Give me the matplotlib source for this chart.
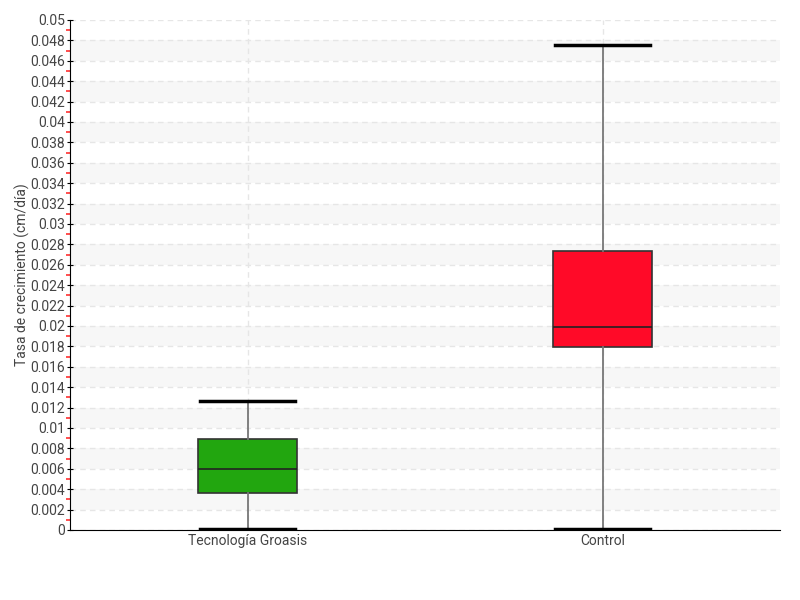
import numpy as np
import matplotlib
matplotlib.use("Agg")
import matplotlib.pyplot as plt
from matplotlib.ticker import MultipleLocator

categorias = ["Tecnología Groasis", "Control"]
minimos = [0.0001, 0.0001]
q1 = [0.0036, 0.0179]
medianas = [0.0060, 0.0199]
q3 = [0.0089, 0.0274]
maximos = [0.0126, 0.0475]
colores = ["#22a60f", "#ff0a28"]

plt.rcParams['font.family'] = ['Roboto', 'DejaVu Sans']

fig = plt.figure(figsize=(8, 6), dpi=100)
ax = fig.add_axes([0.0875, 0.1167, 0.8875, 0.85])

stats = []
for i in range(len(categorias)):
    stats.append(dict(label=categorias[i], whislo=minimos[i], q1=q1[i], med=medianas[i],
                      q3=q3[i], whishi=maximos[i], fliers=[]))

pos = [0.5, 1.5]
bp = ax.bxp(stats, positions=pos, widths=0.28, patch_artist=True, showfliers=False,
            boxprops=dict(edgecolor='#333333', linewidth=1.2),
            medianprops=dict(color='#222222', linewidth=1.2),
            whiskerprops=dict(color='#777777', linewidth=1.3),
            capprops=dict(color='black', linewidth=2.5), capwidths=0.27)
for caja, c in zip(bp['boxes'], colores):
    caja.set_facecolor(c)
    caja.set_zorder(3)
for k in ['whiskers', 'caps', 'medians']:
    for l in bp[k]:
        l.set_zorder(3)

# bandas alternas y rejilla
for y0 in np.arange(0.002, 0.05, 0.004):
    ax.axhspan(y0, y0 + 0.002, color='#f7f7f7', zorder=0, lw=0)
ax.set_ylim(0, 0.05)
ax.set_xlim(0, 2)
ax.grid(axis='y', which='major', color='#e6e6e6', linestyle=(0, (4, 3)), linewidth=1, zorder=1)
for p in pos:
    ax.axvline(p, color='#e6e6e6', linestyle=(0, (4, 3)), linewidth=1, zorder=1)
ax.set_axisbelow(True)

ticks = np.arange(0, 0.0501, 0.002)
ax.set_yticks(ticks)
ax.set_yticklabels(['0' if t == 0 else ('%.3f' % t).rstrip('0') for t in ticks])
ax.yaxis.set_minor_locator(MultipleLocator(0.001))
ax.set_xticks(pos)
ax.set_xticklabels(categorias)

ax.tick_params(axis='y', which='major', direction='inout', length=5, color='black',
               labelsize=10, labelcolor='#444444', pad=1)
ax.tick_params(axis='y', which='minor', direction='out', length=3, width=1.2, color='#ff3030')
ax.tick_params(axis='x', length=0, labelsize=10, labelcolor='#444444', pad=3)
ax.set_ylabel("Tasa de crecimiento (cm/día)", fontsize=10, color='#444444', labelpad=0)

for s in ['top', 'right']:
    ax.spines[s].set_visible(False)
ax.spines['left'].set_color('black')
ax.spines['bottom'].set_color('black')

plt.savefig('out.png', dpi=100)
